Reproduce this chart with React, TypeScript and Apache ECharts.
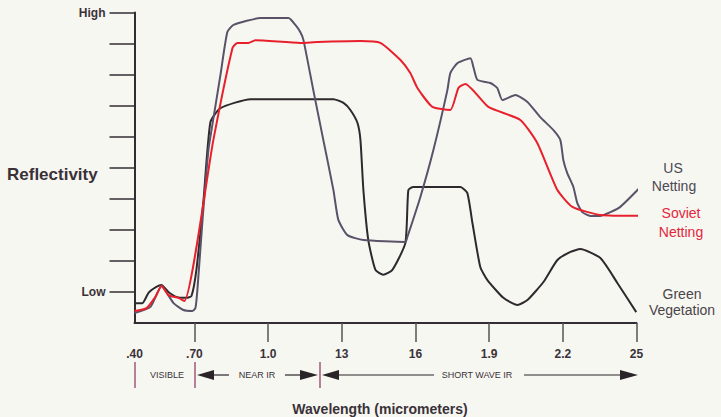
import React, { useEffect, useRef } from "react";
import * as echarts from "echarts";

// [wavelength (micrometers), reflectivity (0..10, Low = 1, High = 10)]
const greenVegetation: [number, number][] = [
  [0.456, 0.64], [0.488, 0.64], [0.513, 0.97], [0.545, 1.16], [0.566, 1.22],
  [0.594, 1.0], [0.627, 0.84], [0.667, 0.81], [0.688, 0.87], [0.708, 1.71],
  [0.737, 3.96], [0.765, 6.47], [0.806, 6.92], [0.928, 7.21], [1.266, 7.21],
  [1.307, 7.09], [1.335, 6.86], [1.364, 6.44], [1.376, 5.89], [1.388, 4.28],
  [1.408, 2.67], [1.437, 1.71], [1.469, 1.55], [1.506, 1.71], [1.559, 2.58],
  [1.571, 4.28], [1.591, 4.38], [1.783, 4.38], [1.811, 4.19], [1.832, 3.22],
  [1.864, 1.8], [1.893, 1.38], [1.958, 0.81], [2.015, 0.58], [2.056, 0.74],
  [2.121, 1.32], [2.178, 2.03], [2.231, 2.29], [2.271, 2.38], [2.353, 2.09],
  [2.422, 1.29], [2.499, 0.35],
];

const usNetting: [number, number][] = [
  [0.456, 0.32], [0.521, 0.52], [0.566, 1.19], [0.615, 0.64], [0.655, 0.42],
  [0.692, 0.39], [0.704, 0.48], [0.712, 1.06], [0.733, 3.32], [0.757, 5.57],
  [0.773, 6.38], [0.806, 7.99], [0.834, 9.37], [0.859, 9.6], [0.969, 9.82],
  [1.083, 9.82], [1.111, 9.6], [1.131, 9.37], [1.144, 9.11], [1.184, 7.5],
  [1.225, 5.89], [1.266, 4.28], [1.286, 3.32], [1.323, 2.83], [1.388, 2.67],
  [1.559, 2.61], [1.567, 2.77], [1.62, 4.06], [1.673, 5.57], [1.73, 7.5],
  [1.742, 8.05], [1.771, 8.37], [1.824, 8.53], [1.836, 8.24], [1.852, 7.83],
  [1.905, 7.73], [1.933, 7.57], [1.954, 7.18], [2.007, 7.34], [2.056, 7.12],
  [2.108, 6.63], [2.161, 6.22], [2.19, 5.89], [2.202, 5.25], [2.218, 4.83],
  [2.243, 4.38], [2.259, 3.86], [2.279, 3.57], [2.312, 3.45], [2.353, 3.45],
  [2.394, 3.57], [2.434, 3.74], [2.516, 4.38],
];

const sovietNetting: [number, number][] = [
  [0.456, 0.39], [0.505, 0.48], [0.541, 0.84], [0.566, 1.19], [0.594, 0.9],
  [0.635, 0.81], [0.659, 0.71], [0.777, 5.89], [0.855, 8.86], [0.875, 9.02],
  [0.92, 9.02], [0.948, 9.11], [1.131, 9.02], [1.201, 9.05], [1.376, 9.08],
  [1.457, 9.02], [1.539, 8.47], [1.579, 8.05], [1.608, 7.57], [1.669, 6.96],
  [1.742, 6.86], [1.775, 7.57], [1.803, 7.7], [1.897, 6.96], [2.027, 6.54],
  [2.096, 5.8], [2.178, 4.28], [2.239, 3.74], [2.353, 3.48], [2.548, 3.45],
];

const xTickValues = [0.456, 0.7, 1.0, 1.3, 1.6, 1.9, 2.2, 2.5];
const xTickLabels = [".40", ".70", "1.0", "13", "16", "1.9", "2.2", "25"];
const xTickMarks = [0.7, 1.0, 1.3, 1.6, 1.9, 2.2, 2.5];
const yTickMarks = [1, 2, 3, 4, 5, 6, 7, 8, 9, 10];
const yLabelValues = [1, 10];
const yLabels = ["Low", "High"];

const FONT = '"Liberation Sans", Arial, Helvetica, sans-serif';
const AXIS = "#332c33";

export default function App() {
  const ref = useRef<HTMLDivElement>(null);
  useEffect(() => {
    document.body.style.margin = "0";
    if (!ref.current) return;
    const chart = echarts.init(ref.current, null, { renderer: "svg" });
    const lineSeries = (name: string, data: [number, number][], color: string, z: number) => ({
      name,
      type: "line",
      data,
      symbol: "none",
      showSymbol: false,
      smooth: 0.18,
      clip: false,
      z,
      lineStyle: { color, width: 2 },
    });
    chart.setOption({
      animation: false,
      backgroundColor: "#f7f7f2",
      grid: { left: 134.5, right: 84.5, top: 12.5, bottom: 94 },
      xAxis: {
        type: "value",
        min: 0.456,
        max: 2.5,
        axisLine: { show: true, lineStyle: { color: AXIS, width: 2 } },
        axisTick: {
          show: true,
          customValues: xTickMarks,
          length: 19,
          lineStyle: { color: "#555", width: 1.5 },
        },
        axisLabel: {
          customValues: xTickValues,
          margin: 25,
          color: "#3a3238",
          fontFamily: FONT,
          fontWeight: "bold",
          fontSize: 12,
          formatter: (v: number) => {
            const i = xTickValues.findIndex((t) => Math.abs(t - v) < 1e-6);
            return i >= 0 ? xTickLabels[i] : "";
          },
        },
        splitLine: { show: false },
      },
      yAxis: {
        type: "value",
        min: 0,
        max: 10,
        axisLine: { show: true, lineStyle: { color: AXIS, width: 2 } },
        axisTick: {
          show: true,
          customValues: yTickMarks,
          length: 25,
          lineStyle: { color: AXIS, width: 1.5 },
        },
        axisLabel: {
          customValues: yLabelValues,
          margin: 29,
          color: "#3a3238",
          fontFamily: FONT,
          fontWeight: "bold",
          fontSize: 12,
          formatter: (v: number) => {
            const i = yLabelValues.findIndex((t) => Math.abs(t - v) < 1e-6);
            return i >= 0 ? yLabels[i] : "";
          },
        },
        splitLine: { show: false },
      },
      series: [
        lineSeries("Green Vegetation", greenVegetation, "#2e292d", 3),
        lineSeries("US Netting", usNetting, "#5a5268", 4),
        lineSeries("Soviet Netting", sovietNetting, "#e8202c", 5),
      ],
      graphic: [
        { type: "text", x: 7, y: 174, style: { text: "Reflectivity", fill: "#3a3038", font: `bold 17px ${FONT}`, align: "left", verticalAlign: "middle" } },
        { type: "text", x: 673, y: 168, style: { text: "US", fill: "#4d4852", font: `14px ${FONT}`, align: "center", verticalAlign: "middle" } },
        { type: "text", x: 674, y: 186, style: { text: "Netting", fill: "#4d4852", font: `14px ${FONT}`, align: "center", verticalAlign: "middle" } },
        { type: "text", x: 681, y: 213, style: { text: "Soviet", fill: "#e3263a", font: `14px ${FONT}`, align: "center", verticalAlign: "middle" } },
        { type: "text", x: 681, y: 232, style: { text: "Netting", fill: "#e3263a", font: `14px ${FONT}`, align: "center", verticalAlign: "middle" } },
        { type: "text", x: 682, y: 294, style: { text: "Green", fill: "#4a4448", font: `14px ${FONT}`, align: "center", verticalAlign: "middle" } },
        { type: "text", x: 682, y: 310, style: { text: "Vegetation", fill: "#4a4448", font: `14px ${FONT}`, align: "center", verticalAlign: "middle" } },
        // band separators
        { type: "line", shape: { x1: 135, y1: 362, x2: 135, y2: 388 }, style: { stroke: "#a0587e", lineWidth: 1.5 } },
        { type: "line", shape: { x1: 195, y1: 362, x2: 195, y2: 388 }, style: { stroke: "#a0587e", lineWidth: 1.5 } },
        { type: "line", shape: { x1: 320, y1: 362, x2: 320, y2: 388 }, style: { stroke: "#a0587e", lineWidth: 1.5 } },
        { type: "text", x: 167, y: 375, style: { text: "VISIBLE", fill: "#3a3238", font: `9px ${FONT}`, align: "center", verticalAlign: "middle" } },
        { type: "polygon", shape: { points: [[197, 375], [214, 370], [214, 380]] }, style: { fill: "#2a2428" } },
        { type: "line", shape: { x1: 213, y1: 375, x2: 229, y2: 375 }, style: { stroke: "#2a2428", lineWidth: 1.2 } },
        { type: "text", x: 257, y: 375, style: { text: "NEAR IR", fill: "#3a3238", font: `9px ${FONT}`, align: "center", verticalAlign: "middle" } },
        { type: "line", shape: { x1: 285, y1: 375, x2: 301, y2: 375 }, style: { stroke: "#2a2428", lineWidth: 1.2 } },
        { type: "polygon", shape: { points: [[318, 375], [300, 370], [300, 380]] }, style: { fill: "#2a2428" } },
        { type: "polygon", shape: { points: [[322, 375], [339, 370], [339, 380]] }, style: { fill: "#2a2428" } },
        { type: "line", shape: { x1: 338, y1: 375, x2: 434, y2: 375 }, style: { stroke: "#2a2428", lineWidth: 1.2 } },
        { type: "text", x: 477, y: 375, style: { text: "SHORT WAVE IR", fill: "#3a3238", font: `9px ${FONT}`, align: "center", verticalAlign: "middle" } },
        { type: "line", shape: { x1: 524, y1: 375, x2: 622, y2: 375 }, style: { stroke: "#2a2428", lineWidth: 1.2 } },
        { type: "polygon", shape: { points: [[638, 375], [620, 370], [620, 380]] }, style: { fill: "#2a2428" } },
        { type: "text", x: 380, y: 409, style: { text: "Wavelength (micrometers)", fill: "#3a3238", font: `bold 14px ${FONT}`, align: "center", verticalAlign: "middle" } },
      ],
    });
    return () => chart.dispose();
  }, []);
  return <div ref={ref} style={{ width: 721, height: 417 }} />;
}
